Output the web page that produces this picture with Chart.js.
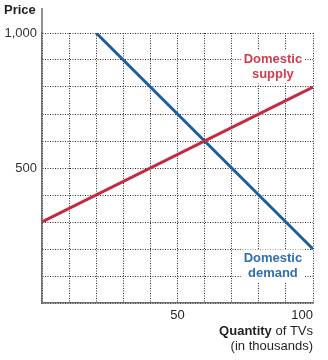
<!DOCTYPE html>
<html>
<head>
<meta charset="utf-8">
<script src="https://cdn.jsdelivr.net/npm/chart.js@4.4.1/dist/chart.umd.min.js"></script>
<style>
  html, body { margin: 0; padding: 0; background: #fff; }
  #wrap { width: 328px; height: 360px; }
</style>
</head>
<body>
<div id="wrap"><canvas id="tvChart" width="328" height="360"></canvas></div>
<script>
// Domestic TV market: supply and demand lines
const supplyQty = [0, 100];
const supplyPrice = [300, 800];
const demandQty = [20, 100];
const demandPrice = [1000, 200];

const xTickLabels = [50, 100];
const yTickLabels = [500, 1000];

const FONT = '"Liberation Sans", Arial, Helvetica, sans-serif';
const COLORS = {
  supply: '#c8283f',
  demand: '#1f5e98',
  supplyText: '#cf3d50',
  demandText: '#2f6fae',
  axis: '#6b6b6b',
  grid: '#2a2a2a',
  text: '#231f20',
};

const toPoints = (xs, ys) => xs.map((x, i) => ({ x, y: ys[i] }));

// Titles, x tick labels and the curve captions
const textPlugin = {
  id: 'textLayer',
  beforeDatasetsDraw(chart) {
    const { ctx, scales: { x, y } } = chart;
    const caption = (lines, qx, py, color) => {
      ctx.save();
      ctx.font = `bold 13px ${FONT}`;
      const w = Math.max(...lines.map((l) => ctx.measureText(l).width));
      const cx = x.getPixelForValue(qx);
      const cy = y.getPixelForValue(py);
      ctx.fillStyle = '#fff';
      ctx.fillRect(cx - w / 2 - 3, cy - 9, w + 6, lines.length * 15 + 3);
      ctx.fillStyle = color;
      ctx.textAlign = 'center';
      ctx.textBaseline = 'middle';
      lines.forEach((l, i) => ctx.fillText(l, cx, cy + i * 15));
      ctx.restore();
    };
    caption(['Domestic', 'supply'], 85.2, 902, COLORS.supplyText);
    caption(['Domestic', 'demand'], 85.2, 165, COLORS.demandText);
  },
  afterDraw(chart) {
    const { ctx, chartArea, scales: { x } } = chart;
    ctx.save();
    // y axis runs up past the top gridline
    ctx.strokeStyle = COLORS.axis;
    ctx.lineWidth = 1.5;
    ctx.beginPath();
    ctx.moveTo(chartArea.left, 8);
    ctx.lineTo(chartArea.left, chartArea.top);
    ctx.stroke();

    ctx.fillStyle = COLORS.text;
    ctx.textBaseline = 'middle';
    ctx.font = `bold 13px ${FONT}`;
    ctx.textAlign = 'left';
    ctx.fillText('Price', 4, 10);

    // x tick labels; the last one sits inside the right edge
    ctx.font = `13px ${FONT}`;
    xTickLabels.forEach((v, i) => {
      ctx.textAlign = i === xTickLabels.length - 1 ? 'right' : 'center';
      ctx.fillText(String(v), x.getPixelForValue(v), 315);
    });

    const right = chartArea.right;
    ctx.textAlign = 'right';
    ctx.font = `13px ${FONT}`;
    const rest = ' of TVs';
    const restW = ctx.measureText(rest).width;
    ctx.fillText(rest, right, 331);
    ctx.font = `bold 13px ${FONT}`;
    ctx.fillText('Quantity', right - restW, 331);
    ctx.font = `13px ${FONT}`;
    ctx.fillText('(in thousands)', right, 346);
    ctx.restore();
  },
};

new Chart(document.getElementById('tvChart'), {
  type: 'scatter',
  data: {
    datasets: [
      {
        label: 'Domestic supply',
        data: toPoints(supplyQty, supplyPrice),
        showLine: true, borderColor: COLORS.supply, borderWidth: 3,
        pointRadius: 0, pointHoverRadius: 0,
      },
      {
        label: 'Domestic demand',
        data: toPoints(demandQty, demandPrice),
        showLine: true, borderColor: COLORS.demand, borderWidth: 3,
        pointRadius: 0, pointHoverRadius: 0,
      },
    ],
  },
  options: {
    responsive: false,
    animation: false,
    layout: { padding: { top: 33, left: 0, right: 15, bottom: 0 } },
    plugins: { legend: { display: false }, tooltip: { enabled: false } },
    scales: {
      x: {
        type: 'linear', min: 0, max: 100,
        ticks: { stepSize: 10, display: false },
        grid: { color: COLORS.grid, lineWidth: 1, drawTicks: false },
        border: { color: COLORS.axis, width: 1.5, dash: [1, 1.5] },
        afterFit: (scale) => { scale.height = 57; },
      },
      y: {
        type: 'linear', min: 0, max: 1000,
        ticks: {
          stepSize: 100, padding: 5, color: '#333',
          font: { family: FONT, size: 13 },
          callback: (v) => (yTickLabels.includes(v) ? v.toLocaleString('en-US') : ''),
        },
        grid: { color: COLORS.grid, lineWidth: 1, drawTicks: false },
        border: { color: COLORS.axis, width: 1.5, dash: [1, 1.5] },
        afterFit: (scale) => { scale.width = 42; },
      },
    },
  },
  plugins: [textPlugin],
});
</script>
</body>
</html>
